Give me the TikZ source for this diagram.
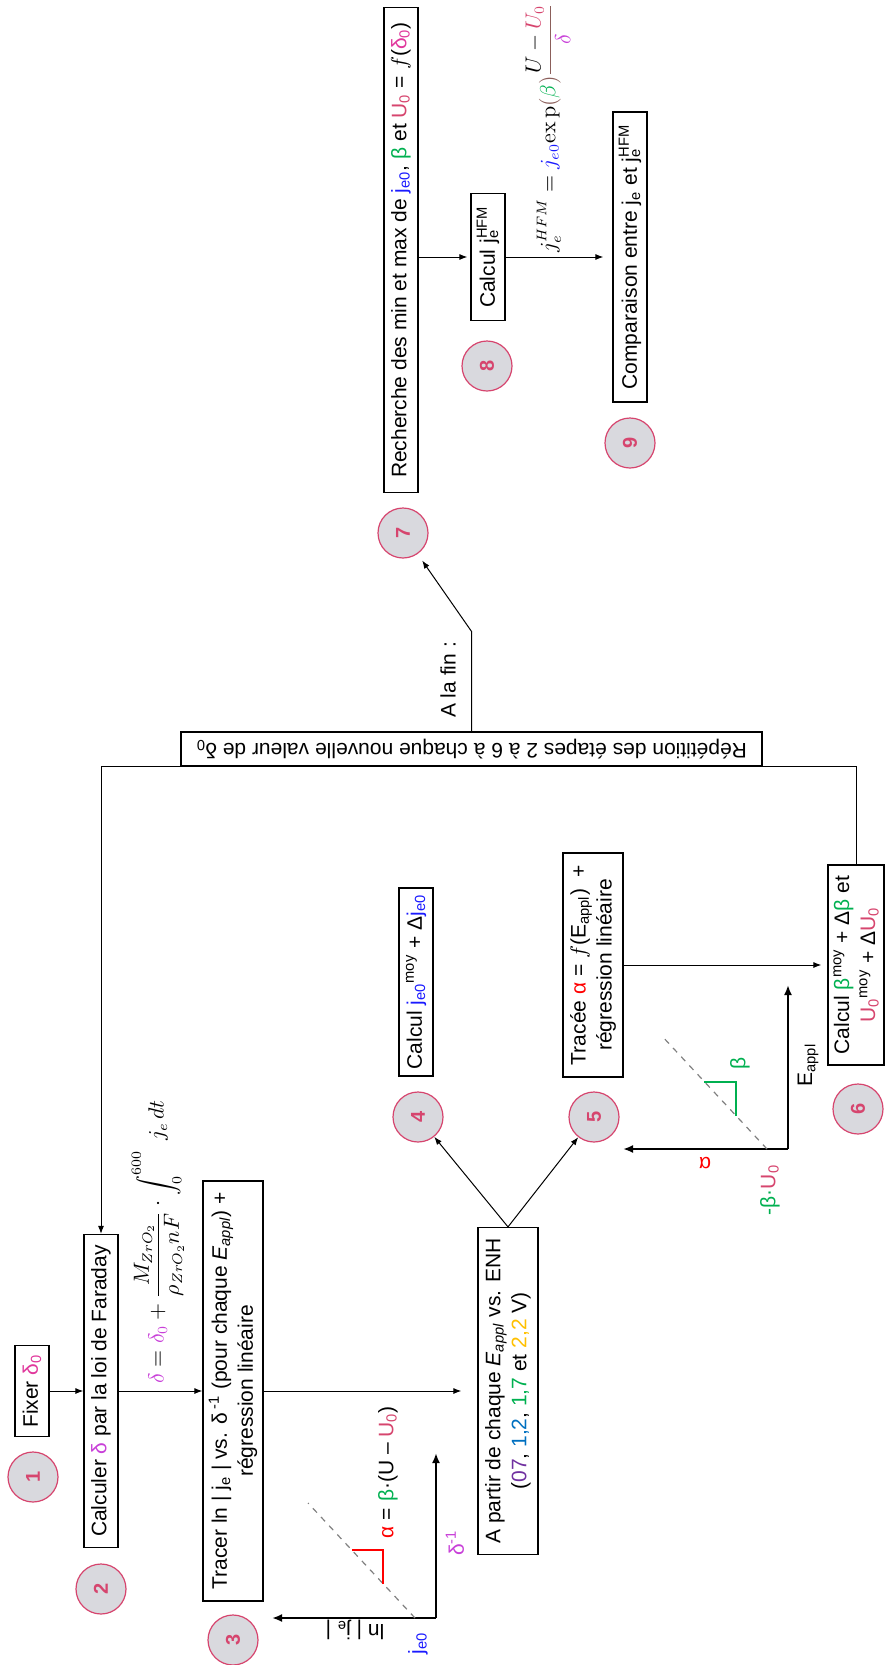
\documentclass[tikz,border=0pt]{standalone}
\usepackage[no-math]{fontspec}
\setmainfont{Liberation Sans}
\usetikzlibrary{arrows.meta}

\definecolor{mag}{HTML}{C840D8}
\definecolor{pmag}{HTML}{E0389C}
\definecolor{rose}{HTML}{D6456E}
\definecolor{grn}{HTML}{00B050}
\definecolor{blu}{HTML}{1A1AFF}
\definecolor{disc}{HTML}{D9D9DE}
\definecolor{vio}{HTML}{7030A0}
\definecolor{azur}{HTML}{0070C0}
\definecolor{gold}{HTML}{FFC000}
\definecolor{brwn}{HTML}{8B5E5A}

\newcommand\subtx[1]{\textsubscript{#1}}
\newcommand\suptx[1]{\textsuperscript{#1}}
\newcommand\subsup[2]{\rlap{\textsubscript{#1}}\textsuperscript{#2}}

\begin{document}
\begin{tikzpicture}[x=0.5pt, y=-0.5pt,
    font=\fontsize{10.5}{13}\selectfont,
    box/.style={draw, line width=0.6pt, inner sep=1pt, align=center},
    vbox/.style={box, rotate=90},
    vlbl/.style={inner sep=0pt, rotate=90},
    flbl/.style={inner sep=0pt, rotate=180},
    stepnum/.style={circle, draw=rose, fill=disc, line width=0.6pt, minimum size=25pt,
        inner sep=0pt, text=rose, font=\fontsize{10}{12}\selectfont\bfseries, rotate=90},
    arr/.style={-{Latex[length=4pt,width=3pt]}, line width=0.5pt},
    axis/.style={-{Latex[length=5pt,width=4pt]}, line width=1pt},
    trend/.style={gray, dashed, line width=0.6pt},
    slope/.style={line width=0.75pt}]
    \useasboundingbox (0,0) rectangle (885,1665);

    % steps 1 to 3
    \node[vbox, minimum width=45.5pt, minimum height=17pt] (fixer) at (32,1391) {Fixer \textcolor{pmag}{δ\subtx{0}}};
    \node[vbox, minimum width=156.5pt, minimum height=17pt] (calc) at (101,1391) {Calculer \textcolor{mag}{δ} par la loi de Faraday};
    \node[vbox, minimum width=210pt, minimum height=30pt] (tracer) at (233,1391)
        {Tracer ln | j\subtx{e} | vs. δ\,\suptx{-1} (pour chaque \textit{E\subtx{appl}}) +\\ régression linéaire};
    \node[vbox, minimum width=163.5pt, minimum height=30pt] (apartir) at (508,1391)
        {A partir de chaque \textit{E\subtx{appl}} vs. ENH\\ (\textcolor{vio}{07}, \textcolor{azur}{1,2}, \textcolor{grn}{1,7} et \textcolor{gold}{2,2} V)};

    \node[vlbl] (fdelta) at (158,1242)
        {$\displaystyle \textcolor{mag}{\delta} = \textcolor{mag}{\delta_0} + \frac{M_{ZrO_2}}{\rho_{ZrO_2}nF}\cdot\int_0^{600}\; j_e\,dt$};

    % steps 4 to 6
    \node[vbox, minimum width=94pt, minimum height=17pt] (calcj) at (416,982)
        {Calcul \textcolor{blu}{j\subtx{e0}}\suptx{moy} + Δ\textcolor{blu}{j\subtx{e0}}};
    \node[vbox, minimum width=112pt, minimum height=30pt] (trace) at (593,965)
        {Tracée \textcolor{red}{α} = $f$(E\subtx{appl})\ \ +\\ régression linéaire};
    \node[vbox, minimum width=100pt, minimum height=28pt] (calcb) at (856,965)
        {Calcul \textcolor{grn}{β}\suptx{moy} + Δ\textcolor{grn}{β} et\\ \textcolor{rose}{U\subtx{0}}\suptx{moy} + Δ\textcolor{rose}{U\subtx{0}}};

    % steps 7 to 9
    \node[vbox, minimum width=242.5pt, minimum height=17pt] (rech) at (401,250)
        {Recherche des min et max de \textcolor{blu}{j\subtx{e0}}, \textcolor{grn}{β} et \textcolor{rose}{U\subtx{0}} = $f$(\textcolor{pmag}{δ\subtx{0}})};
    \node[vbox, minimum width=63.5pt, minimum height=17pt] (hfm) at (488,257) {Calcul j\subsup{e}{HFM}};
    \node[vbox, minimum width=145pt, minimum height=17pt] (comp) at (630,257) {Comparaison entre j\subtx{e} et j\subsup{e}{HFM}};
    \node[vlbl] (fhfm) at (548,128)
        {$\displaystyle j_e^{HFM} = \textcolor{blu}{j_{e0}}\mathrm{ex\,p}\textcolor{brwn}{(}\textcolor{grn}{\beta}\textcolor{brwn}{)}
         {\color{brwn}\frac{{\color{black}U}\mathbin{\color{black}-}{\color{rose}U_0}}{{\color{mag}\delta}}}$};

    \node[box, rotate=180, minimum width=290.5pt, minimum height=17pt] (repet) at (471.5,749)
        {Répétition des étapes 2 à 6 à chaque nouvelle valeur de δ\subtx{0}};
    \node[vlbl] (lfin) at (448,680) {A la fin :};

    \foreach \n/\cx/\cy in {1/33/1477, 2/101/1589, 3/233/1640, 4/418/1117, 5/594/1117,
        6/858/1109, 7/403/533, 8/487/366, 9/630/443}
        \node[stepnum] (c\n) at (\cx,\cy) {\n};

    % connectors
    \draw[arr] (fixer) -- (calc);
    \draw[arr] (calc) -- (tracer);
    \draw[arr, shorten >=8pt] (tracer) -- (apartir);
    \draw[arr] (apartir.east) -- (c4);
    \draw[arr] (apartir.east) -- (c5);
    \draw[arr, shorten >=3pt] (trace) -- (calcb);
    \draw[arr] (calcb.east) |- (repet.north) -| (calc.east);
    \draw[arr, shorten >=4pt] (repet.south) -- ++(0,-100) -- (c7);
    \draw[arr, shorten >=1.5pt] (rech.south |- hfm) -- (hfm);
    \draw[arr, shorten >=4.5pt] (hfm) -- (comp);

    % plot ln|je| vs 1/delta
    \coordinate (o1) at (436,1618);
    \draw[axis] (o1) -- ++(-164,0);
    \draw[axis] (o1) -- ++(0,-165);
    \draw[trend] (415,1618) -- (308,1503);
    \draw[slope, red] (383,1584) -- (383,1550) -- (352,1550);
    \node[vlbl] (lalpha) at (388,1472) {\textcolor{red}{α} = \textcolor{grn}{β}·(U – \textcolor{rose}{U\subtx{0}})};
    \node[vlbl] (ldinv) at (455,1543) {\textcolor{mag}{δ\suptx{-1}}};
    \node[flbl] (llnj) at (355,1630) {ln | j\subtx{e} |};
    \node[vlbl] (lje0) at (418,1643) {\textcolor{blu}{j\subtx{e0}}};

    % plot alpha vs Eappl
    \coordinate (o2) at (788,1149);
    \draw[axis] (o2) -- ++(-165,0);
    \draw[axis] (o2) -- ++(0,-164);
    \draw[trend] (767,1149) -- (661,1035);
    \draw[slope, grn] (736,1116) -- (736,1082) -- (704,1082);
    \node[vlbl] (lbeta) at (740,1063) {\textcolor{grn}{β}};
    \node[flbl] (lalpha2) at (705,1163) {\textcolor{red}{α}};
    \node[vlbl] (lbu) at (770,1190) {\textcolor{grn}{-β·}\textcolor{rose}{U\subtx{0}}};
    \node[vlbl] (leappl) at (808,1065) {E\subtx{appl}};
\end{tikzpicture}
\end{document}
